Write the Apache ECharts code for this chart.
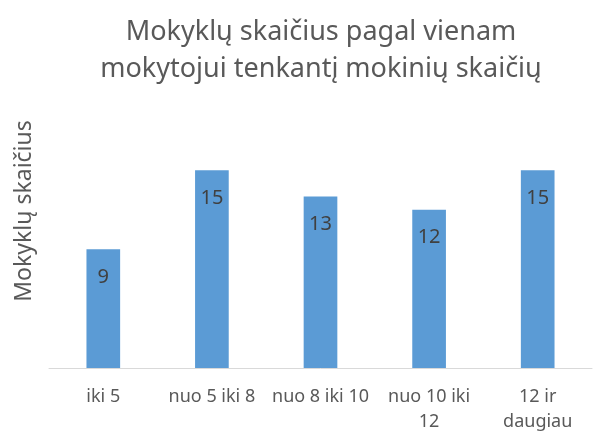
<!DOCTYPE html>
<html>
<head>
<meta charset="utf-8">
<script src="https://cdn.jsdelivr.net/npm/echarts@6/dist/echarts.min.js"></script>
<style>
  html, body { margin: 0; padding: 0; background: #fff; }
  #chart { width: 593px; height: 434px; }
</style>
</head>
<body>
<div id="chart"></div>
<script>
const titleText = 'Mokyklų skaičius pagal vienam\nmokytojui tenkantį mokinių skaičių';
const yAxisTitle = 'Mokyklų skaičius';
const categories = ['iki 5', 'nuo 5 iki 8', 'nuo 8 iki 10', 'nuo 10 iki\n12', '12 ir\ndaugiau'];
const schoolCounts = [9, 15, 13, 12, 15];

const chart = echarts.init(document.getElementById('chart'));
const font = 'Noto Sans';

chart.setOption({
  backgroundColor: '#fff',
  animation: false,
  title: {
    text: titleText,
    left: 316,
    textAlign: 'center',
    top: 9,
    textStyle: {
      fontFamily: font,
      fontSize: 27,
      fontWeight: 'normal',
      color: '#595959',
      lineHeight: 37,
    },
  },
  graphic: [
    {
      type: 'text',
      x: 24,
      y: 211,
      rotation: Math.PI / 2,
      style: {
        text: yAxisTitle,
        font: '23px "Noto Sans"',
        fill: '#595959',
        align: 'center',
        verticalAlign: 'middle',
      },
    },
  ],
  grid: {
    left: 49,
    right: 1,
    top: 157,
    bottom: 62,
  },
  xAxis: {
    type: 'category',
    data: categories,
    axisLine: { lineStyle: { color: '#d9d9d9', width: 1 } },
    axisTick: { show: false },
    axisLabel: {
      fontFamily: font,
      fontSize: 18,
      color: '#595959',
      lineHeight: 25,
      margin: 16,
      interval: 0,
    },
  },
  yAxis: {
    type: 'value',
    min: 0,
    max: 16,
    axisLine: { show: false },
    axisTick: { show: false },
    axisLabel: { show: false },
    splitLine: { show: false },
  },
  series: [
    {
      type: 'bar',
      data: schoolCounts,
      barWidth: '31%',
      itemStyle: { color: '#5b9bd5' },
      label: {
        show: true,
        position: 'insideTop',
        distance: 18,
        fontFamily: font,
        fontSize: 20,
        color: '#404040',
      },
    },
  ],
});
</script>
</body>
</html>
